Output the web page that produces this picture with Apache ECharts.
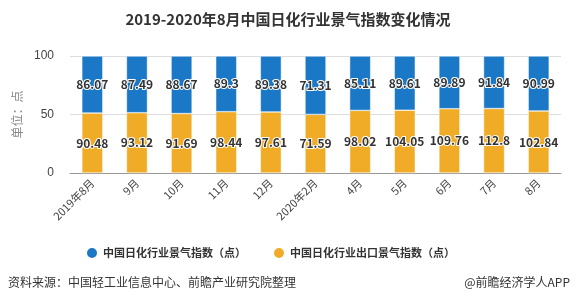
<!DOCTYPE html>
<html>
<head>
<meta charset="utf-8">
<style>
  html, body { margin: 0; padding: 0; background: #fff; }
  #chart { width: 576px; height: 307px; }
</style>
<script src="https://cdn.jsdelivr.net/npm/echarts@6/dist/echarts.min.js"></script>
</head>
<body>
<div id="chart"></div>
<script>
var categories = ["2019年8月", "9月", "10月", "11月", "12月", "2020年2月", "4月", "5月", "6月", "7月", "8月"];
var prosperity = [86.07, 87.49, 88.67, 89.3, 89.38, 71.31, 85.11, 89.61, 89.89, 91.84, 90.99];
var exportProsperity = [90.48, 93.12, 91.69, 98.44, 97.61, 71.59, 98.02, 104.05, 109.76, 112.8, 102.84];
var yTicks = [0, 50, 100];

// 100% stacked: each bar split by share, labels keep the raw values
var exportData = [], prosData = [];
categories.forEach(function (c, i) {
  var total = prosperity[i] + exportProsperity[i];
  exportData.push({ value: exportProsperity[i] / total * 100, raw: exportProsperity[i] });
  prosData.push({ value: prosperity[i] / total * 100, raw: prosperity[i] });
});

var chart = echarts.init(document.getElementById("chart"));
var labelStyle = {
  show: true,
  position: "inside",
  color: "#333",
  fontSize: 12,
  fontWeight: "bold",
  fontFamily: "Noto Sans CJK SC",
  textBorderColor: "#fff",
  textBorderWidth: 2,
  formatter: function (p) { return p.data.raw; }
};
var option = {
  animation: false,
  title: {
    text: "2019-2020年8月中国日化行业景气指数变化情况",
    left: "center",
    top: 7,
    textStyle: { fontSize: 15, fontWeight: "bold", color: "#333", fontFamily: "Noto Sans CJK SC" }
  },
  legend: {
    bottom: 42,
    left: 80,
    icon: "circle",
    itemWidth: 12,
    itemHeight: 12,
    itemGap: 26,
    textStyle: { fontSize: 11, color: "#333", fontWeight: "bold", fontFamily: "Noto Sans CJK SC" },
    data: ["中国日化行业景气指数（点）", "中国日化行业出口景气指数（点）"]
  },
  grid: { left: 70, right: 15, top: 56, bottom: 134 },
  xAxis: {
    type: "category",
    data: categories,
    axisTick: { alignWithLabel: true, lineStyle: { color: "#999" } },
    axisLine: { lineStyle: { color: "#999" } },
    axisLabel: { rotate: 45, color: "#444", fontSize: 11, fontFamily: "Noto Sans CJK SC", interval: 0, margin: 8 }
  },
  yAxis: {
    type: "value",
    min: yTicks[0],
    max: yTicks[yTicks.length - 1],
    interval: 50,
    name: "单位：点",
    nameLocation: "middle",
    nameGap: 42,
    nameTextStyle: { color: "#888", fontSize: 12, fontFamily: "Noto Sans CJK SC" },
    axisLine: { show: false },
    axisTick: { show: false },
    axisLabel: { color: "#444", fontSize: 12, margin: 16 },
    splitLine: { lineStyle: { color: "#ddd" } }
  },
  series: [
    {
      name: "中国日化行业出口景气指数（点）",
      type: "bar",
      stack: "all",
      barWidth: "47%",
      data: exportData,
      itemStyle: { color: "#f0ac26", borderColor: "#fff", borderWidth: 0.5 },
      label: labelStyle
    },
    {
      name: "中国日化行业景气指数（点）",
      type: "bar",
      stack: "all",
      barWidth: "47%",
      data: prosData,
      itemStyle: { color: "#1a78c6", borderColor: "#fff", borderWidth: 0.5 },
      label: labelStyle
    }
  ],
  graphic: [
    {
      type: "text",
      left: 8,
      top: 276,
      style: { text: "资料来源：中国轻工业信息中心、前瞻产业研究院整理", fill: "#333", fontSize: 12, fontFamily: "Noto Sans CJK SC" }
    },
    {
      type: "text",
      right: 6,
      top: 276,
      style: { text: "@前瞻经济学人APP", fill: "#333", fontSize: 12, fontFamily: "Noto Sans CJK SC" }
    }
  ]
};
chart.setOption(option);
window.addEventListener("resize", chart.resize);
</script>
</body>
</html>
